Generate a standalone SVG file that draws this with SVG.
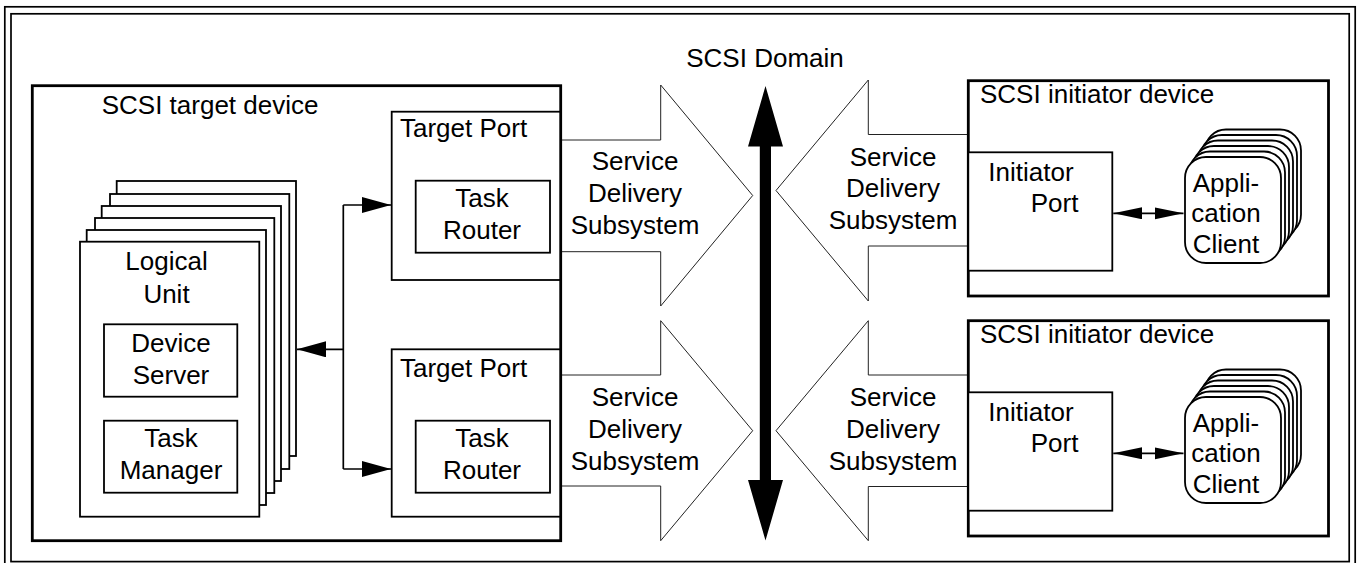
<svg xmlns="http://www.w3.org/2000/svg" width="1357" height="563" viewBox="0 0 1357 563">
<style>
  text { font-family: "Liberation Sans", Arial, Helvetica, sans-serif; font-size: 26px; fill: #000; }
  .c { text-anchor: middle; }
  .frame { fill: none; stroke: #000; stroke-width: 1.7; }
  .thick { fill: #fff; stroke: #000; stroke-width: 2.8; }
  .box { fill: #fff; stroke: #000; stroke-width: 1.8; }
  .sds { fill: #fff; stroke: #222; stroke-width: 1; }
  .conn { fill: none; stroke: #000; stroke-width: 1.7; }
</style>
<defs>
  <marker id="ahBig" markerUnits="userSpaceOnUse" markerWidth="30" markerHeight="17" refX="29" refY="8" orient="auto-start-reverse">
    <path d="M0,0 L29,8 L0,16 z" fill="#000"/>
  </marker>
  <marker id="ahSmall" markerUnits="userSpaceOnUse" markerWidth="30" markerHeight="13" refX="29" refY="6" orient="auto-start-reverse">
    <path d="M0,0 L29,6 L0,12 z" fill="#000"/>
  </marker>
</defs>
<rect width="1357" height="563" fill="#fff"/>
<g id="frame">
  <rect class="frame" x="4.8" y="6.8" width="1350.4" height="562"/>
  <rect class="frame" x="11" y="13.8" width="1338.2" height="547.8"/>
</g>
<text id="scsi-domain" class="c" x="765" y="67.3">SCSI Domain</text>

<g id="service-delivery-arrows">
  <path id="sds-t1" class="sds" d="M560,140 L660.7,140 L660.7,85 L752.7,195.5 L660.7,306 L660.7,251.7 L560,251.7"/>
  <path id="sds-t2" class="sds" d="M560,375 L660.7,375 L660.7,320.7 L752.7,430.7 L660.7,540.7 L660.7,486 L560,486"/>
  <path id="sds-i1" class="sds" d="M968,134.5 L868.3,134.5 L868.3,80 L776,190.5 L868.3,301 L868.3,246 L968,246"/>
  <path id="sds-i2" class="sds" d="M968,375 L868.3,375 L868.3,320.7 L776,430.7 L868.3,540.7 L868.3,486.5 L968,486.5"/>
  <text class="c" x="635" y="170">Service</text>
  <text class="c" x="635" y="202">Delivery</text>
  <text class="c" x="635" y="233.5">Subsystem</text>
  <text class="c" x="635" y="406">Service</text>
  <text class="c" x="635" y="438">Delivery</text>
  <text class="c" x="635" y="470">Subsystem</text>
  <text class="c" x="893" y="166">Service</text>
  <text class="c" x="893" y="197">Delivery</text>
  <text class="c" x="893" y="228.5">Subsystem</text>
  <text class="c" x="893" y="406">Service</text>
  <text class="c" x="893" y="438">Delivery</text>
  <text class="c" x="893" y="470">Subsystem</text>
</g>

<g id="domain-arrow">
  <path d="M765.5,86 L783,146.5 L771,146.5 L771,480 L783,480 L765.5,540.5 L748,480 L759.8,480 L759.8,146.5 L748,146.5 z" fill="#000"/>
</g>

<g id="target-device">
  <rect class="thick" x="32.3" y="85.7" width="528.4" height="455"/>
  <text x="101.7" y="114">SCSI target device</text>
</g>

<g id="logical-unit">
  <rect class="box" x="116.7" y="181" width="179.3" height="275"/>
  <rect class="box" x="110" y="194" width="179.3" height="275"/>
  <rect class="box" x="101.7" y="206" width="179.3" height="275"/>
  <rect class="box" x="95" y="218" width="179.3" height="275"/>
  <rect class="box" x="86.7" y="230" width="179.3" height="275"/>
  <rect class="box" x="80" y="241.7" width="179.3" height="275"/>
  <text class="c" x="166.5" y="270">Logical</text>
  <text class="c" x="166.5" y="303">Unit</text>
</g>
<g id="device-server">
  <rect class="box" x="104" y="324.3" width="133.3" height="72.4"/>
  <text class="c" x="171" y="351.5">Device</text>
  <text class="c" x="171" y="383.5">Server</text>
</g>
<g id="task-manager">
  <rect class="box" x="104" y="420.7" width="133.3" height="72"/>
  <text class="c" x="171" y="446.7">Task</text>
  <text class="c" x="171" y="479">Manager</text>
</g>

<g id="target-port-1">
  <rect class="box" x="391.7" y="111.7" width="168.5" height="168.3"/>
  <text x="400" y="137.3">Target Port</text>
</g>
<g id="task-router-1">
  <rect class="box" x="415.7" y="180.7" width="134.3" height="72"/>
  <text class="c" x="482" y="206.7">Task</text>
  <text class="c" x="482" y="239.3">Router</text>
</g>
<g id="target-port-2">
  <rect class="box" x="391.7" y="349.3" width="168.5" height="167.4"/>
  <text x="400" y="377.3">Target Port</text>
</g>
<g id="task-router-2">
  <rect class="box" x="415.7" y="420.7" width="134.3" height="72"/>
  <text class="c" x="482" y="446.7">Task</text>
  <text class="c" x="482" y="479.3">Router</text>
</g>

<g id="initiator-device-1">
  <rect class="thick" x="968.3" y="80.7" width="360.2" height="215.3"/>
  <text x="980" y="103.3">SCSI initiator device</text>
</g>
<g id="initiator-port-1">
  <rect class="box" x="968.3" y="152.3" width="144" height="118.4"/>
  <text x="988.3" y="180.7">Initiator</text>
  <text x="1030.7" y="211.7">Port</text>
</g>
<g id="application-client-1">
  <rect class="box" x="1205" y="129.5" width="96" height="106" rx="21"/>
  <rect class="box" x="1201" y="135" width="96" height="106" rx="21"/>
  <rect class="box" x="1197" y="140.5" width="96" height="106" rx="21"/>
  <rect class="box" x="1193" y="146" width="96" height="106" rx="21"/>
  <rect class="box" x="1189" y="151.5" width="96" height="106" rx="21"/>
  <rect class="box" x="1185" y="157" width="96" height="106" rx="21"/>
  <text class="c" x="1226" y="191.7">Appli-</text>
  <text class="c" x="1226" y="222">cation</text>
  <text class="c" x="1226" y="252.7">Client</text>
</g>

<g id="initiator-device-2">
  <rect class="thick" x="968.3" y="320.7" width="360.2" height="215.3"/>
  <text x="980" y="343.3">SCSI initiator device</text>
</g>
<g id="initiator-port-2">
  <rect class="box" x="968.3" y="392.3" width="144" height="118.4"/>
  <text x="988.3" y="420.7">Initiator</text>
  <text x="1030.7" y="451.7">Port</text>
</g>
<g id="application-client-2">
  <rect class="box" x="1205" y="369.5" width="96" height="106" rx="21"/>
  <rect class="box" x="1201" y="375" width="96" height="106" rx="21"/>
  <rect class="box" x="1197" y="380.5" width="96" height="106" rx="21"/>
  <rect class="box" x="1193" y="386" width="96" height="106" rx="21"/>
  <rect class="box" x="1189" y="391.5" width="96" height="106" rx="21"/>
  <rect class="box" x="1185" y="397" width="96" height="106" rx="21"/>
  <text class="c" x="1226" y="431.7">Appli-</text>
  <text class="c" x="1226" y="462">cation</text>
  <text class="c" x="1226" y="492.7">Client</text>
</g>

<g id="connectors">
  <path class="conn" d="M343.3,205 L343.3,469"/>
  <path class="conn" d="M343.3,205 L391,205" marker-end="url(#ahBig)"/>
  <path class="conn" d="M343.3,469 L391,469" marker-end="url(#ahBig)"/>
  <path class="conn" d="M343.3,349.3 L297,349.3" marker-end="url(#ahBig)"/>
  <path class="conn" d="M1113.3,213.3 L1183.5,213.3" marker-start="url(#ahSmall)" marker-end="url(#ahSmall)"/>
  <path class="conn" d="M1113.3,453.3 L1183.5,453.3" marker-start="url(#ahSmall)" marker-end="url(#ahSmall)"/>
</g>
</svg>
